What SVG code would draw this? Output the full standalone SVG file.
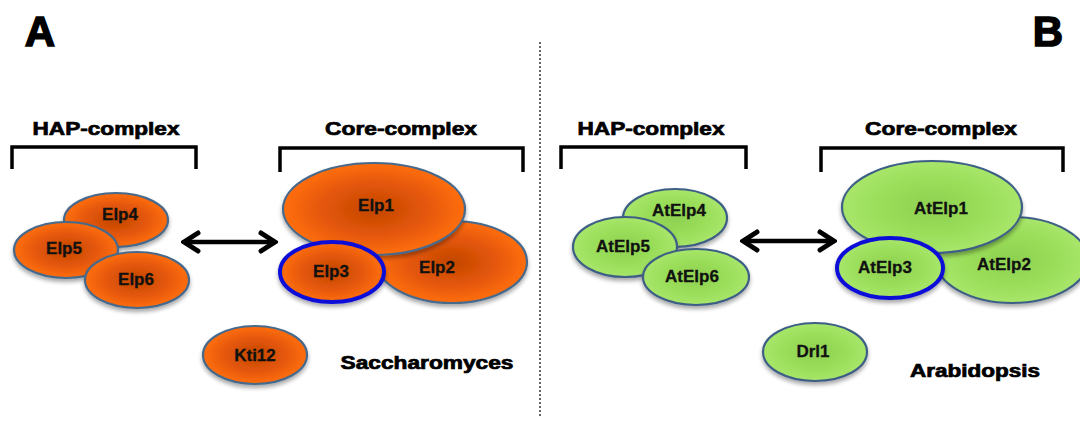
<svg xmlns="http://www.w3.org/2000/svg" width="1080" height="421" viewBox="0 0 1080 421">
<defs>
<radialGradient id="gOr" cx="50%" cy="50%" r="50%">
<stop offset="0" stop-color="#c24604"/>
<stop offset="0.6" stop-color="#e65808"/>
<stop offset="1" stop-color="#ff6e0c"/>
</radialGradient>
<radialGradient id="gGr" cx="50%" cy="50%" r="50%">
<stop offset="0" stop-color="#8ed050"/>
<stop offset="0.6" stop-color="#9ade5a"/>
<stop offset="1" stop-color="#a8e66a"/>
</radialGradient>
<filter id="sh" x="-20%" y="-20%" width="140%" height="150%">
<feGaussianBlur in="SourceAlpha" stdDeviation="2"/>
<feOffset dx="0" dy="3" result="b"/>
<feComponentTransfer><feFuncA type="linear" slope="0.35"/></feComponentTransfer>
<feMerge><feMergeNode/><feMergeNode in="SourceGraphic"/></feMerge>
</filter>
<marker id="chev" viewBox="0 0 20 24" refX="17" refY="12" markerWidth="20" markerHeight="24" markerUnits="userSpaceOnUse" orient="auto-start-reverse">
<path d="M3,3 L17,12 L3,21" fill="none" stroke="#000" stroke-width="5" stroke-linecap="round" stroke-linejoin="miter"/>
</marker>
</defs>
<style>
.or{fill:url(#gOr);stroke:#46698c;stroke-width:2.2;filter:url(#sh)}
.gr{fill:url(#gGr);stroke:#3e5f86;stroke-width:2.2;filter:url(#sh)}
.e3{stroke:#1010d8;stroke-width:4}
.lb{font-family:"Liberation Sans",Arial,sans-serif;font-weight:bold;font-size:17px;fill:#111;stroke:#111;stroke-width:0.3;text-anchor:middle}
.hd{font-family:"Liberation Sans",Arial,sans-serif;font-weight:bold;font-size:18px;fill:#000;stroke:#000;stroke-width:0.7;text-anchor:middle}
.big{font-family:"Liberation Sans",Arial,sans-serif;font-weight:bold;font-size:42px;fill:#000;stroke:#000;stroke-width:1.5;text-anchor:middle}
.br{fill:none;stroke:#000;stroke-width:3.5}
.ar{stroke:#000;stroke-width:4.5;fill:none}
</style>

<g id="panel-labels">
<text class="big" x="40" y="46">A</text>
<text class="big" x="1048" y="46">B</text>
</g>

<line id="divider" x1="540" y1="42" x2="540" y2="418" stroke="#000" stroke-width="1.2" stroke-dasharray="2,2"/>

<g id="brackets">
<text class="hd" x="106" y="135" textLength="147" lengthAdjust="spacingAndGlyphs">HAP-complex</text>
<path class="br" d="M12,169 V147 H196 V169"/>
<text class="hd" x="401" y="135" textLength="152" lengthAdjust="spacingAndGlyphs">Core-complex</text>
<path class="br" d="M280,172 V148 H523 V172"/>
<text class="hd" x="651" y="135" textLength="147" lengthAdjust="spacingAndGlyphs">HAP-complex</text>
<path class="br" d="M561,169 V147 H746 V169"/>
<text class="hd" x="941" y="135" textLength="152" lengthAdjust="spacingAndGlyphs">Core-complex</text>
<path class="br" d="M821,172 V148 H1063 V172"/>
</g>

<g id="connectors">
<line class="ar" x1="184" y1="242" x2="275" y2="242" marker-start="url(#chev)" marker-end="url(#chev)"/>
<line class="ar" x1="743" y1="241" x2="834" y2="241" marker-start="url(#chev)" marker-end="url(#chev)"/>
</g>

<g id="Elp4"><ellipse class="or" cx="116" cy="220" rx="52" ry="27"/><text class="lb" x="120" y="220">Elp4</text></g>
<g id="Elp5"><ellipse class="or" cx="66" cy="250" rx="52" ry="28"/><text class="lb" x="64" y="254">Elp5</text></g>
<g id="Elp6"><ellipse class="or" cx="137" cy="280" rx="52" ry="28"/><text class="lb" x="136" y="285">Elp6</text></g>

<g id="Elp2"><ellipse class="or" cx="452" cy="262" rx="75" ry="41"/><text class="lb" x="437" y="273">Elp2</text></g>
<g id="Elp1"><ellipse class="or" cx="374" cy="209" rx="91" ry="46"/><text class="lb" x="376" y="211">Elp1</text></g>
<g id="Elp3"><ellipse class="or e3" cx="332" cy="272" rx="52" ry="30"/><text class="lb" x="331" y="277">Elp3</text></g>

<g id="Kti12"><ellipse class="or" cx="255" cy="355" rx="52" ry="29"/><text class="lb" x="255" y="361">Kti12</text></g>
<text class="hd" x="427" y="369" textLength="173" lengthAdjust="spacingAndGlyphs">Saccharomyces</text>

<g id="AtElp4"><ellipse class="gr" cx="675" cy="218" rx="52" ry="29"/><text class="lb" x="679" y="216">AtElp4</text></g>
<g id="AtElp5"><ellipse class="gr" cx="625" cy="247" rx="52" ry="30"/><text class="lb" x="623" y="252">AtElp5</text></g>
<g id="AtElp6"><ellipse class="gr" cx="696" cy="277" rx="53" ry="28"/><text class="lb" x="692" y="282">AtElp6</text></g>

<g id="AtElp2"><ellipse class="gr" cx="1012" cy="260" rx="76" ry="43"/><text class="lb" x="1004" y="270">AtElp2</text></g>
<g id="AtElp1"><ellipse class="gr" cx="932" cy="207" rx="90" ry="46"/><text class="lb" x="941" y="214">AtElp1</text></g>
<g id="AtElp3"><ellipse class="gr e3" cx="890" cy="268" rx="53" ry="30"/><text class="lb" x="885" y="273">AtElp3</text></g>

<g id="Drl1"><ellipse class="gr" cx="815" cy="352" rx="52" ry="29"/><text class="lb" x="813" y="357">Drl1</text></g>
<text class="hd" x="975" y="377" textLength="130" lengthAdjust="spacingAndGlyphs">Arabidopsis</text>
</svg>
